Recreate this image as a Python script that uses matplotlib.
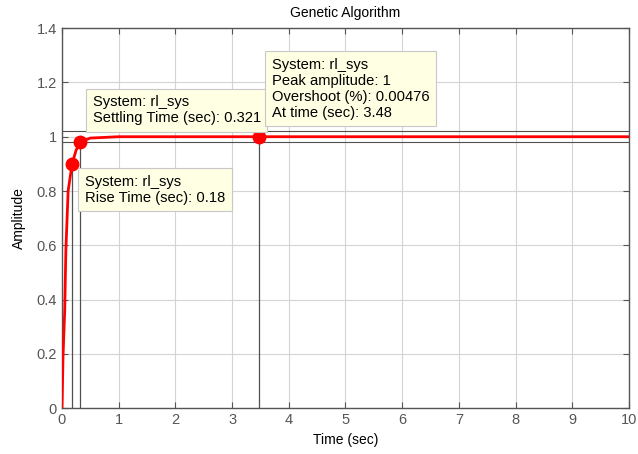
import matplotlib.pyplot as plt

plt.rcParams['font.family'] = ['Liberation Sans', 'DejaVu Sans']

# step response of rl_sys
t = [0, 0.005, 0.02, 0.05, 0.07, 0.11, 0.18, 0.25, 0.321, 0.5, 1.0, 2.0, 3.48, 5.0, 7.0, 10.0]
amp = [0, 0.03, 0.19, 0.36, 0.58, 0.80, 0.90, 0.95, 0.98, 0.995, 1.0, 1.0, 1.00005, 1.0, 1.0, 1.0]

rise_time, rise_amp = 0.18, 0.9
settle_time, settle_amp = 0.321, 0.98
peak_time, peak_amp, overshoot = 3.48, 1.0, 0.00476
settle_band = [0.98, 1.02]

xticks = list(range(0, 11))
yticks = [0, 0.2, 0.4, 0.6, 0.8, 1, 1.2, 1.4]

fig = plt.figure(figsize=(6.38, 4.54), dpi=100)
ax = fig.add_axes([0.097, 0.101, 0.889, 0.837])

ax.grid(True, color='#d4d4d4', linewidth=0.8)
ax.set_axisbelow(True)

for yb in settle_band:
    ax.axhline(yb, color='#505050', linewidth=0.8, zorder=2)

ax.plot([rise_time, rise_time], [0, rise_amp], color='#505050', linewidth=0.9, zorder=2)
ax.plot([settle_time, settle_time], [0, settle_amp], color='#505050', linewidth=0.9, zorder=2)
ax.plot([peak_time, peak_time], [0, peak_amp], color='#505050', linewidth=0.9, zorder=2)

ax.plot(t, amp, color='red', linewidth=2, zorder=3)
ax.plot([rise_time, settle_time, peak_time], [rise_amp, settle_amp, peak_amp], 'o',
        color='red', markersize=9, zorder=4)

box = dict(boxstyle='square,pad=0.45', facecolor='#ffffe3', edgecolor='#c8c8c8', linewidth=0.8)
fs = 10.6
ax.text(0.54, 1.153, 'System: rl_sys\nSettling Time (sec): %g' % settle_time,
        fontsize=fs, va='top', ha='left', bbox=box, zorder=5, linespacing=1.18)
ax.text(0.405, 0.86, 'System: rl_sys\nRise Time (sec): %g' % rise_time,
        fontsize=fs, va='top', ha='left', bbox=box, zorder=5, linespacing=1.18)
ax.text(3.7, 1.291, 'System: rl_sys\nPeak amplitude: %g\nOvershoot (%%): %g\nAt time (sec): %g'
        % (peak_amp, overshoot, peak_time),
        fontsize=fs, va='top', ha='left', bbox=box, zorder=5, linespacing=1.18)

ax.set_xlim(0, 10)
ax.set_ylim(0, 1.4)
ax.set_xticks(xticks)
ax.set_yticks(yticks)
ax.set_yticklabels(['0', '0.2', '0.4', '0.6', '0.8', '1', '1.2', '1.4'])
ax.tick_params(direction='in', top=True, right=True, length=4, width=0.8,
               colors='#555555', labelsize=10.5, labelcolor='#555555')
for s in ax.spines.values():
    s.set_color('#555555')
    s.set_linewidth(1)

ax.set_title('Genetic Algorithm', fontsize=10, pad=8)
ax.set_xlabel('Time (sec)', fontsize=10, labelpad=4)
ax.set_ylabel('Amplitude', fontsize=10, labelpad=8)

fig.savefig('out.png', dpi=100)
